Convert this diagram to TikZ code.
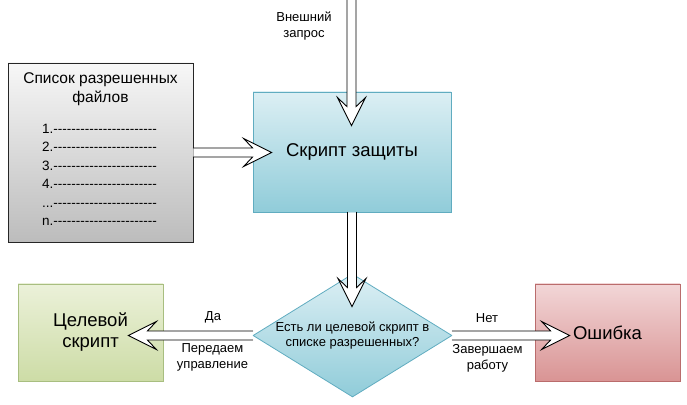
\documentclass[tikz,border=0pt]{standalone}
\usepackage{fontspec}
\setmainfont{Liberation Sans}
\usetikzlibrary{calc,shapes.geometric,positioning}

\definecolor{listtop}{RGB}{247,247,247}
\definecolor{listbot}{RGB}{188,188,188}
\definecolor{cyantop}{RGB}{220,239,244}
\definecolor{cyanbot}{RGB}{144,204,217}
\definecolor{cyanline}{RGB}{96,172,192}
\definecolor{greentop}{RGB}{235,241,217}
\definecolor{greenbot}{RGB}{205,220,166}
\definecolor{greenline}{RGB}{168,190,128}
\definecolor{redtop}{RGB}{242,214,215}
\definecolor{redbot}{RGB}{217,148,148}
\definecolor{redline}{RGB}{186,108,108}

% hollow block arrow from #1 to #2
\newcommand{\bigarrow}[2]{%
  \draw[hollow] let \p1=(#1), \p2=(#2),
      \n1={atan2(\y2-\y1,\x2-\x1)}, \n2={veclen(\x2-\x1,\y2-\y1)} in
    [shift={(\p1)}, rotate=\n1]
    (0pt,4.5pt) -- ({\n2*1pt-19pt},4.5pt) -- ({\n2*1pt-28pt},14pt)
    -- ({\n2*1pt},0pt) -- ({\n2*1pt-28pt},-14pt) -- ({\n2*1pt-19pt},-4.5pt)
    -- (0pt,-4.5pt);}

\tikzset{
  box/.style={draw, line width=0.8pt, inner sep=0pt, align=center,
    minimum width=145pt, minimum height=97pt,
    font=\fontsize{18.5}{21}\selectfont},
  listbox/.style={box, draw=black!85, top color=listtop, bottom color=listbot,
    minimum width=185pt, minimum height=179pt},
  scriptbox/.style={box, draw=cyanline, top color=cyantop, bottom color=cyanbot,
    minimum width=198pt, minimum height=120pt},
  decision/.style={diamond, draw=cyanline, line width=0.8pt, inner sep=0pt,
    top color=cyantop, bottom color=cyanbot,
    minimum width=199pt, minimum height=123pt},
  targetbox/.style={box, draw=greenline, top color=greentop, bottom color=greenbot},
  errorbox/.style={box, draw=redline, top color=redtop, bottom color=redbot},
  hollow/.style={draw=black, fill=white, line width=0.9pt, line join=miter},
  lbl/.style={inner sep=0pt, align=center, font=\fontsize{13}{15.5}\selectfont},
}

\begin{document}
\begin{tikzpicture}[x=1pt, y=1pt, line cap=round]
  \useasboundingbox (0,0) rectangle (687,404);

  \node[listbox] (list) at (100.5,251.5) {};
  \node[inner sep=0pt, align=center, font=\fontsize{15.5}{19}\selectfont]
    (listtitle) at (100.5,314.5) {Список разрешенных\\файлов};
  \node[anchor=north west, inner sep=0pt, align=left,
    font=\fontsize{13.5}{18.4}\selectfont] (items) at (42,280)
    {1.\foreach \k in {1,...,23}{-}\\
     2.\foreach \k in {1,...,23}{-}\\
     3.\foreach \k in {1,...,23}{-}\\
     4.\foreach \k in {1,...,23}{-}\\
     ...\foreach \k in {1,...,23}{-}\\
     n.\foreach \k in {1,...,23}{-}};

  \node[scriptbox] (script) at (352,252) {Скрипт защиты};
  \node[decision] (dec) at (352.5,68.5) {};
  \node[lbl] (dectext) at (dec.center) {Есть ли целевой скрипт в\\списке разрешенных?};
  \node[targetbox] (target) at (90.5,71.5) {Целевой\\скрипт};
  \node[errorbox] (error) at (607.5,71.5) {Ошибка};

  \coordinate (req) at (351.5,404);
  \coordinate (reqtip) at ($(script.north)+(0,-34pt)$);
  \coordinate (sctip) at ($(script.west)+(19pt,0)$);
  \coordinate (dectip) at ($(dec.north)+(0,-33pt)$);
  \coordinate (tgtip) at ($(target.east)+(-35pt,0)$);
  \coordinate (errtip) at ($(error.west)+(35pt,0)$);

  \bigarrow{req}{req |- reqtip}
  \bigarrow{list.east}{list.east -| sctip}
  \bigarrow{script.south}{script.south |- dectip}
  \bigarrow{dec.west}{dec.west -| tgtip}
  \bigarrow{dec.east}{dec.east -| errtip}

  \node[lbl] (reqlbl) at (304,378) {Внешний\\запрос};
  \node[lbl] (yes) at (213,87) {Да};
  \node[lbl] (yesact) at (212.5,46.5) {Передаем\\управление};
  \node[lbl] (no) at (487,86) {Нет};
  \node[lbl] (noact) at (487.5,45.5) {Завершаем\\работу};
\end{tikzpicture}
\end{document}
